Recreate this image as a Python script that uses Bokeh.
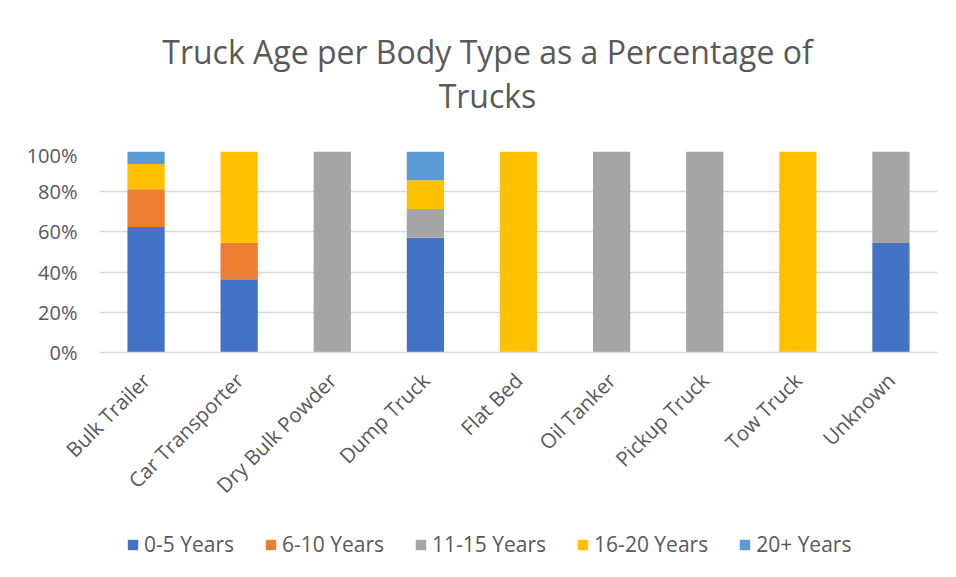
from bokeh.plotting import figure
from bokeh.layouts import column
from bokeh.models import (Range1d, FixedTicker, PrintfTickFormatter, Legend, LegendItem, Label)
from bokeh.embed import file_html
from bokeh.resources import INLINE
import math

categories = ["Bulk Trailer", "Car Transporter", "Dry Bulk Powder", "Dump Truck",
              "Flat Bed", "Oil Tanker", "Pickup Truck", "Tow Truck", "Unknown"]
series_names = ["0-5 Years", "6-10 Years", "11-15 Years", "16-20 Years", "20+ Years"]
age_0_5 = [62.5, 36.4, 0, 57.1, 0, 0, 0, 0, 54.5]
age_6_10 = [18.75, 18.2, 0, 0, 0, 0, 0, 0, 0]
age_11_15 = [0, 0, 100, 14.3, 0, 100, 100, 0, 45.5]
age_16_20 = [12.5, 45.4, 0, 14.3, 100, 0, 0, 100, 0]
age_20_plus = [6.25, 0, 0, 14.3, 0, 0, 0, 0, 0]
colors = ["#4472C4", "#ED7D31", "#A5A5A5", "#FFC000", "#5B9BD5"]
y_ticks = [0, 20, 40, 60, 80, 100]
title_lines = ["Truck Age per Body Type as a Percentage of", "Trucks"]

FONT = "Open Sans"
TXT = "#595959"
W = 940

data = {"cat": categories}
keys = ["a", "b", "c", "d", "e"]
for k, vals in zip(keys, [age_0_5, age_6_10, age_11_15, age_16_20, age_20_plus]):
    data[k] = vals

# ---- title strip (frame aligned with the chart frame) ----
pt = figure(width=W, height=141, x_range=Range1d(0, 1), y_range=Range1d(0, 1),
            x_axis_type=None, y_axis_type=None, output_backend="svg", toolbar_location=None,
            min_border=0, outline_line_color=None)
for line, ypos in zip(title_lines, [90, 46]):
    pt.add_layout(Label(x=388, y=ypos, x_units="screen", y_units="screen", text=line,
                        text_align="center", text_baseline="alphabetic",
                        text_font=FONT, text_font_size="32px", text_color=TXT))

# ---- main chart ----
p = figure(x_range=categories, y_range=Range1d(0, 100), width=W, height=386,
           output_backend="svg", toolbar_location=None,
           min_border_left=99, min_border_right=3, min_border_top=10, min_border_bottom=175)

renderers = p.vbar_stack(keys, x="cat", width=0.4, color=colors, line_color=None, source=data)

p.outline_line_color = None
p.xgrid.grid_line_color = None
p.ygrid.grid_line_color = "#d9d9d9"
p.ygrid.grid_line_width = 1.3

p.yaxis.ticker = FixedTicker(ticks=y_ticks)
p.yaxis.formatter = PrintfTickFormatter(format="%d%%")
p.yaxis.axis_line_color = None
p.yaxis.major_tick_line_color = None
p.yaxis.minor_tick_line_color = None
p.yaxis.major_tick_out = 0
p.yaxis.major_tick_in = 0
p.yaxis.major_label_standoff = 22
p.yaxis.major_label_text_font = FONT
p.yaxis.major_label_text_font_size = "20px"
p.yaxis.major_label_text_color = TXT

p.xaxis.axis_line_color = "#d9d9d9"
p.xaxis.axis_line_width = 1.3
p.xaxis.major_tick_line_color = None
p.xaxis.minor_tick_line_color = None
p.xaxis.major_tick_out = 0
p.xaxis.major_tick_in = 0
p.xaxis.major_label_orientation = math.pi / 4
p.xaxis.major_label_standoff = 24
p.xaxis.major_label_text_font = FONT
p.xaxis.major_label_text_font_size = "20.5px"
p.xaxis.major_label_text_color = TXT

# ---- legend strip (same series, drawn out of view, only the legend shows) ----
pl = figure(width=W, height=45, x_range=categories, y_range=Range1d(200, 300),
            x_axis_type=None, y_axis_type=None, output_backend="svg", toolbar_location=None,
            min_border=0, outline_line_color=None)
proxies = pl.vbar_stack(keys, x="cat", width=0.4, color=colors, line_color=None, source=data)
items = [LegendItem(label=n, renderers=[r]) for n, r in zip(series_names, proxies)]
legend = Legend(items=items, orientation="horizontal", location=(27, 14),
                padding=0, margin=0, spacing=30, glyph_width=13, glyph_height=13,
                label_standoff=5, border_line_color=None, background_fill_alpha=0,
                label_text_font=FONT, label_text_font_size="21px", label_text_color=TXT)
pl.add_layout(legend, "center")

layout = column(pt, p, pl, spacing=0)
open("out.html", "w").write(file_html(layout, INLINE))
